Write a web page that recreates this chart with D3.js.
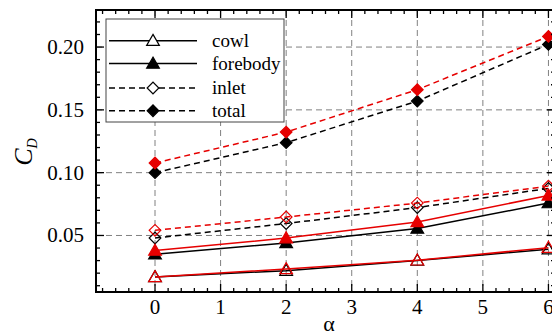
<!DOCTYPE html>
<html><head><meta charset="utf-8">
<script src="https://cdn.jsdelivr.net/npm/d3@7"></script>
<style>body{margin:0;background:#fff}svg{display:block}</style>
</head><body><svg id="c" width="552" height="336"></svg>
<script>
const alpha = [0, 2, 4, 6];
const seriesNames = ["cowl", "forebody", "inlet", "total"];
const blackCowl = [0.017, 0.022, 0.030, 0.039];
const blackForebody = [0.035, 0.044, 0.0555, 0.0758];
const blackInlet = [0.048, 0.0595, 0.0722, 0.0875];
const blackTotal = [0.100, 0.1239, 0.1570, 0.2021];
const redCowl = [0.017, 0.0233, 0.0302, 0.0403];
const redForebody = [0.038, 0.0479, 0.0607, 0.0819];
const redInlet = [0.0541, 0.0647, 0.0758, 0.0893];
const redTotal = [0.1077, 0.1323, 0.1661, 0.2085];
const xTicks = [0, 1, 2, 3, 4, 5, 6];
const yTicks = [0.05, 0.10, 0.15, 0.20];

const svg = d3.select("#c");
const L = 96, T = 10, R = 555, B = 292;
const x = d3.scaleLinear().domain([-0.9, 6.1]).range([L, R]);
const y = d3.scaleLinear().domain([0.005, 0.2295]).range([B, T]);
const font = "'Liberation Serif','Times New Roman',serif";

// grid
const grid = svg.append("g").attr("stroke", "#808080").attr("stroke-width", 1).attr("stroke-dasharray", "6,4");
xTicks.forEach(v => grid.append("line").attr("x1", x(v)).attr("x2", x(v)).attr("y1", T).attr("y2", B));
yTicks.forEach(v => grid.append("line").attr("x1", L).attr("x2", R).attr("y1", y(v)).attr("y2", y(v)));

// series
const styles = {
  cowl: {dash: null, marker: "tri", fill: false},
  forebody: {dash: null, marker: "tri", fill: true},
  inlet: {dash: "6,4", marker: "dia", fill: false},
  total: {dash: "6,4", marker: "dia", fill: true}
};
const groups = [
  {color: "#000", data: {cowl: blackCowl, forebody: blackForebody, inlet: blackInlet, total: blackTotal}},
  {color: "#e60000", data: {cowl: redCowl, forebody: redForebody, inlet: redInlet, total: redTotal}}
];
const triSym = d3.symbol().type(d3.symbolTriangle).size(70);
const diaSym = d3.symbol().type(d3.symbolSquare).size(68);
function marker(g, cx, cy, st, color, bg) {
  g.append("path")
    .attr("d", st.marker === "tri" ? triSym() : diaSym())
    .attr("transform", `translate(${cx},${cy})` + (st.marker === "dia" ? " rotate(45)" : " translate(0,1)"))
    .attr("stroke", color).attr("stroke-width", 1.2)
    .attr("fill", st.fill ? color : (bg || "none"));
}
const line = d3.line().x((d, i) => x(alpha[i])).y(d => y(d));
const plot = svg.append("g");
groups.forEach(gr => {
  seriesNames.forEach(n => {
    const st = styles[n];
    plot.append("path").datum(gr.data[n]).attr("d", line)
      .attr("fill", "none").attr("stroke", gr.color).attr("stroke-width", 1.5)
      .attr("stroke-dasharray", st.dash);
    gr.data[n].forEach((v, i) => marker(plot, x(alpha[i]), y(v), st, gr.color));
  });
});

// frame and ticks
const ax = svg.append("g").attr("stroke", "#000");
ax.append("rect").attr("x", L).attr("y", T).attr("width", R - L).attr("height", B - T)
  .attr("fill", "none").attr("stroke-width", 2);
const xMinor = d3.range(-0.8, 6.05, 0.2);
xMinor.forEach(v => {
  const major = Math.abs(v - Math.round(v)) < 1e-6;
  const len = major ? 8 : 4;
  ax.append("line").attr("x1", x(v)).attr("x2", x(v)).attr("y1", B).attr("y2", B - len).attr("stroke-width", 1.3);
  ax.append("line").attr("x1", x(v)).attr("x2", x(v)).attr("y1", T).attr("y2", T + len).attr("stroke-width", 1.3);
});
const yMinor = d3.range(0.01, 0.225, 0.01);
yMinor.forEach(v => {
  const major = Math.abs(v * 20 - Math.round(v * 20)) < 1e-6;
  const len = major ? 8 : 4;
  ax.append("line").attr("x1", L).attr("x2", L + len).attr("y1", y(v)).attr("y2", y(v)).attr("stroke-width", 1.3);
  ax.append("line").attr("x1", R).attr("x2", R - len).attr("y1", y(v)).attr("y2", y(v)).attr("stroke-width", 1.3);
});

// tick labels
const lab = svg.append("g").attr("font-family", font).attr("font-size", 21).attr("fill", "#000");
xTicks.forEach(v => lab.append("text").attr("x", x(v)).attr("y", 314).attr("text-anchor", "middle").text(v));
yTicks.forEach(v => lab.append("text").attr("x", 84).attr("y", y(v) + 7).attr("text-anchor", "end").text(d3.format(".2f")(v)));

// axis titles
svg.append("text").attr("x", 329).attr("y", 331).attr("text-anchor", "middle")
  .attr("font-family", font).attr("font-size", 22).text("α");
const yt = svg.append("text").attr("transform", "translate(32,152) rotate(-90)")
  .attr("text-anchor", "middle").attr("font-family", font).attr("font-size", 26).attr("font-style", "italic");
yt.append("tspan").text("C");
yt.append("tspan").attr("font-size", 14).attr("dy", 5).text("D");

// legend
const lg = svg.append("g");
lg.append("rect").attr("x", 106).attr("y", 19).attr("width", 178).attr("height", 103)
  .attr("fill", "#fff").attr("stroke", "#444").attr("stroke-width", 1);
const rowY = [40.7, 63.5, 88, 110.7];
seriesNames.forEach((n, i) => {
  const st = styles[n];
  lg.append("line").attr("x1", 109).attr("x2", 197).attr("y1", rowY[i]).attr("y2", rowY[i])
    .attr("stroke", "#000").attr("stroke-width", 1.5).attr("stroke-dasharray", st.dash);
  marker(lg, 153, rowY[i], st, "#000", "#fff");
  lg.append("text").attr("x", 212).attr("y", rowY[i] + 6).attr("font-family", font).attr("font-size", 19).text(n);
});
</script></body></html>
